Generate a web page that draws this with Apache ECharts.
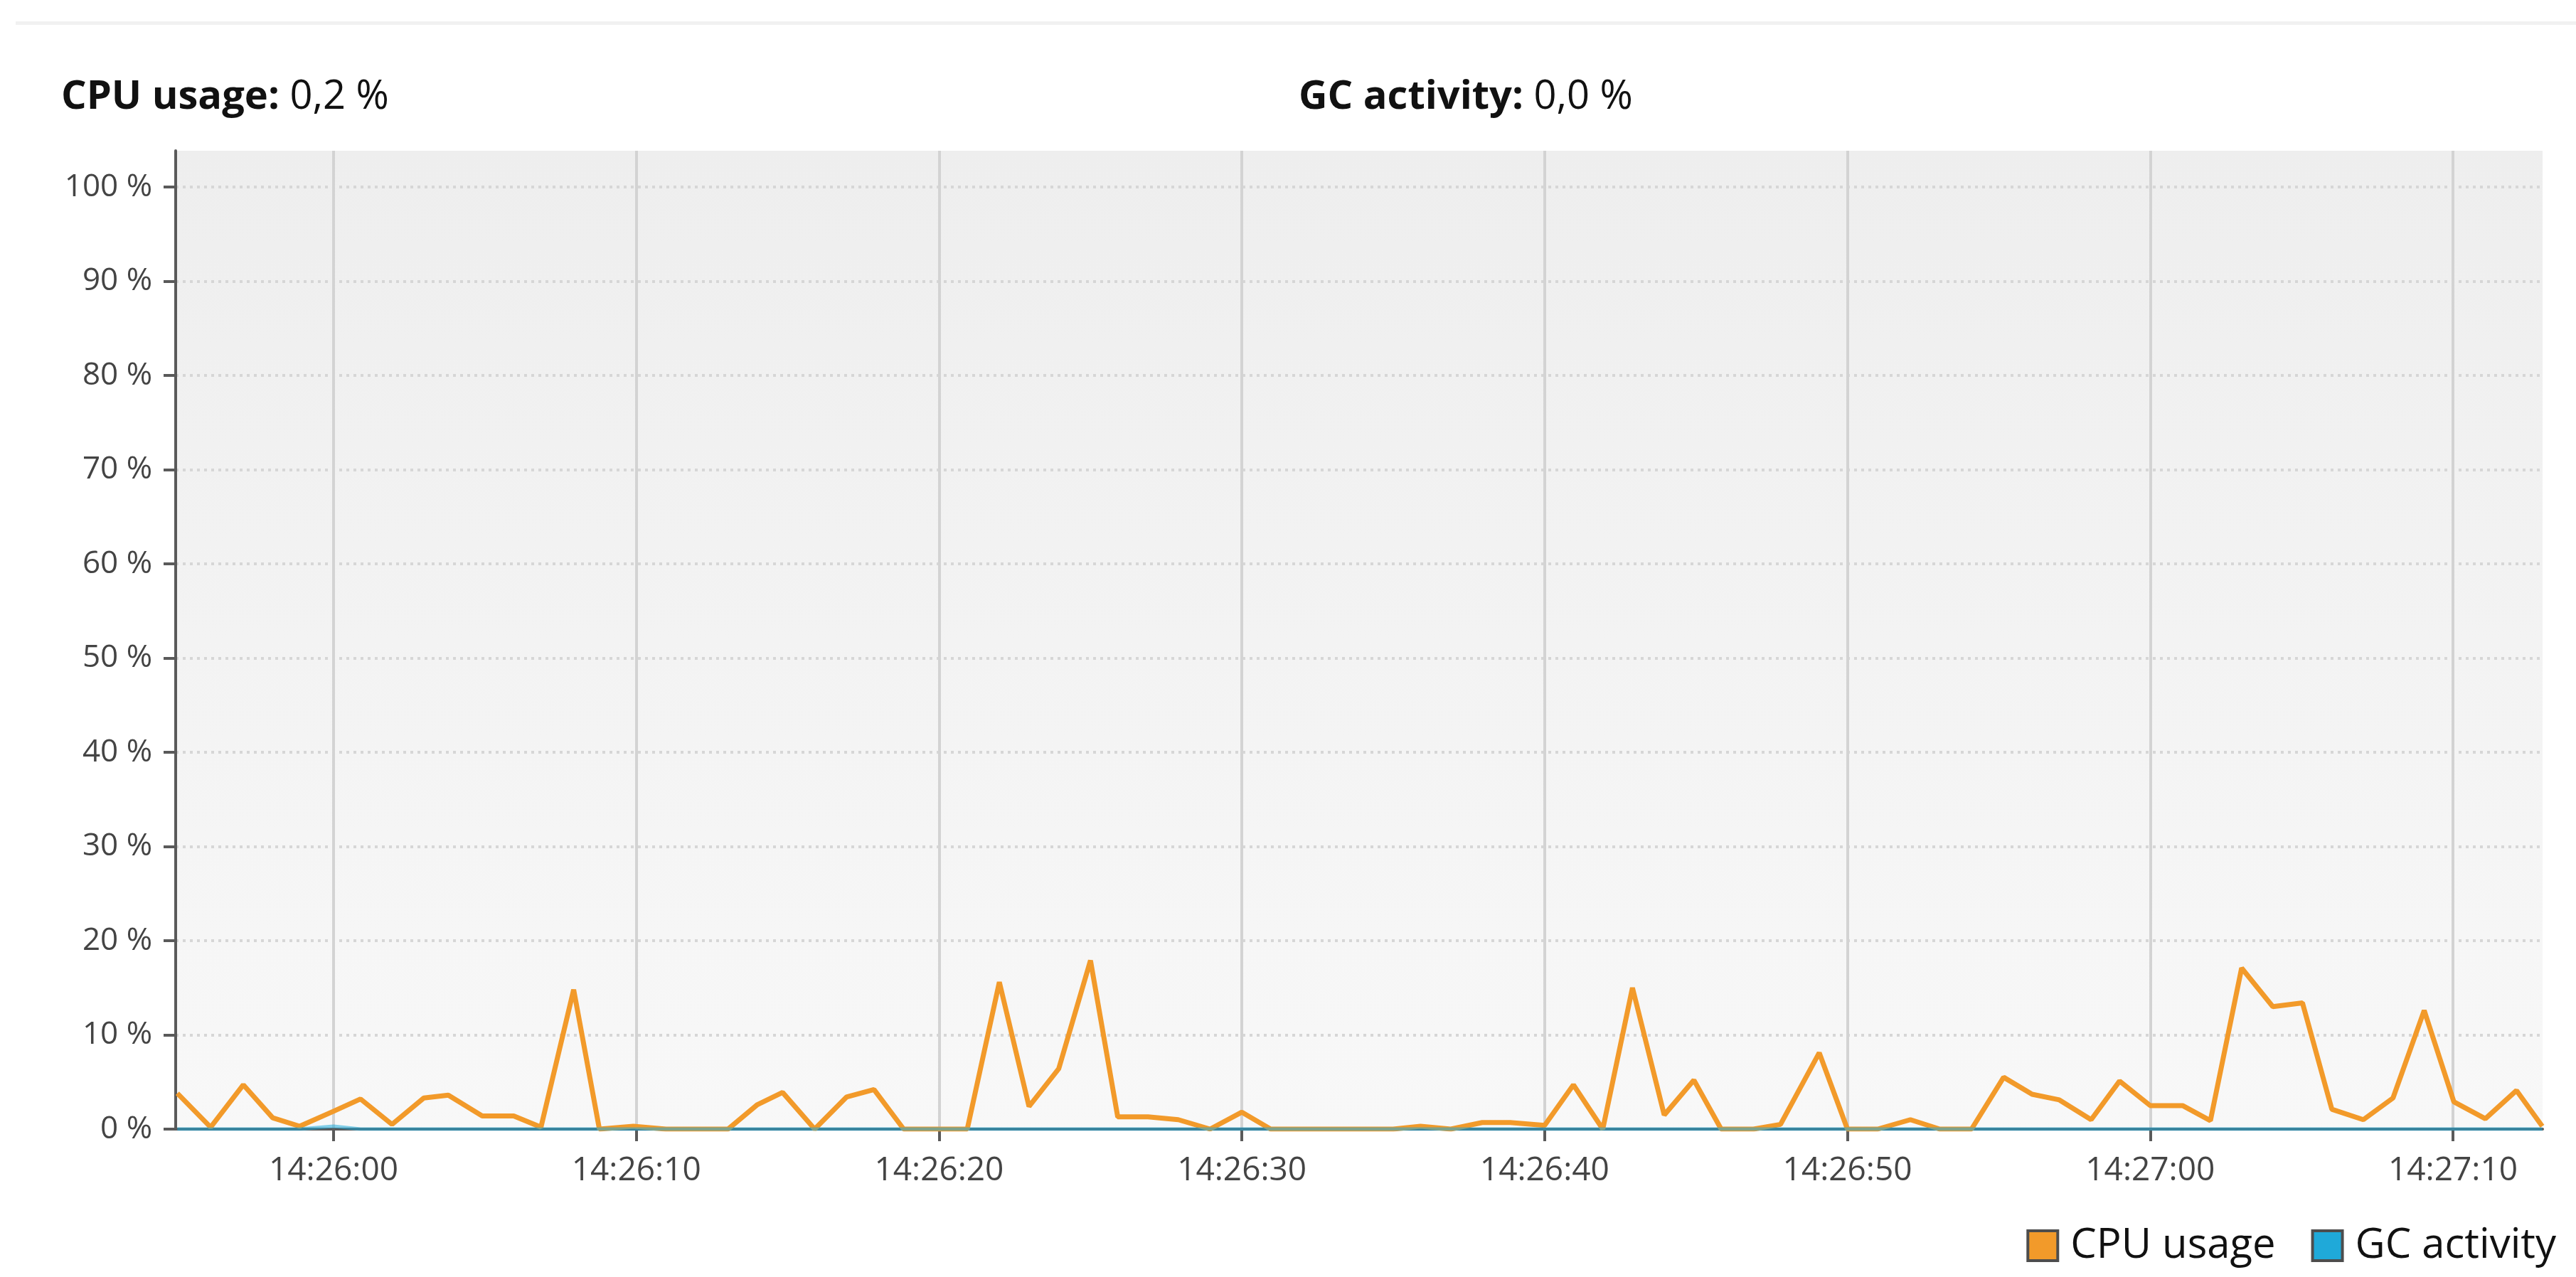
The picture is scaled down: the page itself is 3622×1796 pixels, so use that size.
<!DOCTYPE html>
<html>
<head>
<meta charset="utf-8">
<script src="https://cdn.jsdelivr.net/npm/echarts@6/dist/echarts.min.js"></script>
<style>
html,body{margin:0;padding:0;background:#ffffff;}
#chart{width:3622px;height:1796px;}
</style>
</head>
<body>
<div id="chart"></div>
<script>
// sample times, seconds relative to 14:26:00
const sampleSeconds = [
  -5.16, -4.06, -2.98, -2.01, -1.12, 0.0, 0.89, 1.93, 2.98, 3.79,
  4.91, 5.95, 6.85, 7.93, 8.78, 9.9, 10.98, 12.0, 13.03, 14.0,
  14.83, 15.89, 16.94, 17.85, 18.83, 19.95, 20.93, 21.99, 22.97, 23.95,
  25.0, 25.9, 26.9, 27.9, 28.95, 30.0, 30.95, 32.0, 33.0, 34.0,
  35.0, 35.9, 36.9, 37.94, 38.86, 40.0, 40.95, 41.92, 42.9, 43.95,
  44.93, 45.83, 46.9, 47.79, 49.07, 50.0, 51.0, 52.08, 53.05, 54.1,
  55.16, 56.1, 57.0, 58.05, 58.99, 60.0, 61.07, 61.99, 63.02, 64.05,
  65.03, 66.0, 67.04, 68.02, 69.05, 70.03, 71.07, 72.1, 72.95
];
// CPU usage, %
const cpuUsage = [
  3.8, 0.2, 4.7, 1.2, 0.3, 1.9, 3.2, 0.5, 3.3, 3.6,
  1.4, 1.4, 0.2, 14.8, 0, 0.3, 0, 0, 0, 2.6,
  3.9, 0, 3.4, 4.2, 0, 0, 0, 15.6, 2.4, 6.4,
  17.9, 1.3, 1.3, 1.0, 0, 1.8, 0, 0, 0, 0,
  0, 0.3, 0, 0.7, 0.7, 0.4, 4.7, 0, 15.0, 1.5,
  5.2, 0, 0, 0.5, 8.1, 0, 0, 1.0, 0, 0,
  5.5, 3.7, 3.1, 1.0, 5.1, 2.5, 2.5, 0.9, 17.1, 13.0,
  13.4, 2.1, 1.0, 3.3, 12.6, 2.9, 1.1, 4.1, 0.3
];
// GC activity, %
const gcActivity = [
  0, 0, 0, 0, 0, 0.3, 0, 0, 0, 0,
  0, 0, 0, 0, 0, 0, 0, 0, 0, 0,
  0, 0, 0, 0, 0, 0, 0, 0, 0, 0,
  0, 0, 0, 0, 0, 0, 0, 0, 0, 0,
  0, 0, 0, 0, 0, 0, 0, 0, 0, 0,
  0, 0, 0, 0, 0, 0, 0, 0, 0, 0,
  0, 0, 0, 0, 0, 0, 0, 0, 0, 0,
  0, 0, 0, 0, 0, 0, 0, 0, 0
];
const xTickSeconds = [0, 10, 20, 30, 40, 50, 60, 70];
const xTickLabels = ['14:26:00', '14:26:10', '14:26:20', '14:26:30', '14:26:40', '14:26:50', '14:27:00', '14:27:10'];
const yTickValues = [0, 10, 20, 30, 40, 50, 60, 70, 80, 90, 100];
const seriesNames = ['CPU usage', 'GC activity'];
const currentValues = ['0,2 %', '0,0 %'];

const FONT = 'Open Sans';
const chart = echarts.init(document.getElementById('chart'), null, {renderer: 'canvas'});

const cpuData = sampleSeconds.map((t, i) => [t, cpuUsage[i]]);
const gcData = sampleSeconds.map((t, i) => [t, gcActivity[i]]);

const titleRich = {
  b: {fontFamily: FONT, fontSize: 56, fontWeight: 'bold', color: '#111111', lineHeight: 66},
  r: {fontFamily: FONT, fontSize: 56, fontWeight: 'normal', color: '#111111', lineHeight: 66}
};

chart.setOption({
  animation: false,
  backgroundColor: '#ffffff',
  graphic: [
    {type: 'rect', shape: {x: 22, y: 30, width: 3600, height: 5}, style: {fill: '#F1F1F1'}, silent: true}
  ],
  title: [
    {text: '{b|' + seriesNames[0] + ':}{r| ' + currentValues[0] + '}', left: 86, top: 104, padding: 0,
     textStyle: {rich: titleRich}},
    {text: '{b|' + seriesNames[1] + ':}{r| ' + currentValues[1] + '}', left: 1826, top: 104, padding: 0,
     textStyle: {rich: titleRich}}
  ],
  legend: {
    right: 23, top: 1718,
    icon: 'rect', itemWidth: 42, itemHeight: 42, itemGap: 50,
    itemStyle: {borderColor: '#4d4d4d', borderWidth: 4},
    textStyle: {fontFamily: FONT, fontSize: 58, color: '#111111', padding: [0, 0, 0, 13]},
    data: [seriesNames[0], seriesNames[1]]
  },
  grid: {
    left: 247, right: 47, top: 212, bottom: 208,
    show: true, borderWidth: 0,
    backgroundColor: new echarts.graphic.LinearGradient(0, 0, 0, 1, [
      {offset: 0, color: '#EEEEEE'},
      {offset: 1, color: '#F8F8F8'}
    ])
  },
  xAxis: {
    type: 'value', min: -5.215, max: 72.96,
    axisLine: {show: true, onZero: false, lineStyle: {color: '#5a5a5a', width: 4}},
    axisTick: {show: true, customValues: xTickSeconds, length: 17, lineStyle: {color: '#5a5a5a', width: 4}},
    axisLabel: {
      customValues: xTickSeconds, margin: 36,
      fontFamily: FONT, fontSize: 46, color: '#444444',
      formatter: v => xTickLabels[xTickSeconds.indexOf(Math.round(v))] || ''
    },
    splitLine: {show: true, lineStyle: {color: '#D3D3D3', width: 4, type: 'solid'}}
  },
  yAxis: {
    type: 'value', min: 0, max: 103.85,
    axisLine: {show: true, onZero: false, lineStyle: {color: '#5a5a5a', width: 4}},
    axisTick: {show: true, customValues: yTickValues, length: 17, lineStyle: {color: '#5a5a5a', width: 4}},
    axisLabel: {
      customValues: yTickValues, margin: 33,
      fontFamily: FONT, fontSize: 44, color: '#444444',
      formatter: v => Math.round(v) + ' %'
    },
    splitLine: {show: true, lineStyle: {color: '#D6D6D6', width: 4, type: [4, 6]}}
  },
  series: [
    {
      name: seriesNames[0], type: 'line', data: cpuData,
      showSymbol: false, symbol: 'none',
      color: '#F29A2A',
      itemStyle: {color: '#F29A2A'},
      lineStyle: {color: '#F29A2A', width: 7},
      z: 3
    },
    {
      name: seriesNames[1], type: 'line', data: gcData,
      showSymbol: false, symbol: 'none',
      color: '#1FA9D9',
      itemStyle: {color: '#1FA9D9'},
      lineStyle: {color: '#1FA9D9', width: 5, opacity: 0.55},
      z: 4
    }
  ]
});
</script>
</body>
</html>
